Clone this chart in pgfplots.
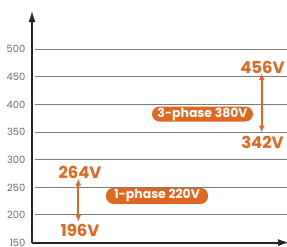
\documentclass[border=0pt]{standalone}
\usepackage{pgfplots}
\pgfplotsset{compat=1.18}
\usetikzlibrary{arrows.meta}
\usepackage{fontspec}
\setmainfont{Poppins}
\definecolor{org}{RGB}{225,103,33}
\definecolor{axc}{RGB}{40,36,36}
\definecolor{grc}{RGB}{125,125,125}
\definecolor{tkc}{RGB}{110,110,110}
\begin{document}
\begin{tikzpicture}
\begin{axis}[
 scale only axis, width=258bp, height=232.5bp,
 xmin=0,xmax=258,ymin=150,ymax=571,
 axis x line=bottom, axis y line=left,
 x axis line style={axc, line width=2bp, -{Latex[length=12bp,width=7bp]}},
 y axis line style={axc, line width=2bp, -{Latex[length=12bp,width=7bp]}},
 xtick=\empty,
 ytick={150,200,...,500},
 yticklabel style={font=\fontsize{10}{10}\selectfont, text=tkc, xshift=-3bp},
 major tick length=0pt,
 /pgf/number format/assume math mode=true,
 clip=false,
]
\pgfplotsinvokeforeach{200,250,...,500}{
  \addplot[grc, line width=1bp] coordinates {(3,#1) (258,#1)};
}
\addplot[org, line width=2bp, {Latex[length=7bp,width=6bp]}-{Latex[length=7bp,width=6bp]}] coordinates {(46.3,188) (46.3,266)};
\addplot[org, line width=2bp, {Latex[length=7bp,width=6bp]}-{Latex[length=7bp,width=6bp]}] coordinates {(229.7,349) (229.7,457)};
\node[text=org, font=\bfseries\fontsize{16.5}{16}\selectfont] at (axis cs:48,277.7) {264V};
\node[text=org, font=\bfseries\fontsize{16.5}{16}\selectfont] at (axis cs:48,171.7) {196V};
\node[text=org, font=\bfseries\fontsize{16.5}{16}\selectfont] at (axis cs:230.5,468) {456V};
\node[text=org, font=\bfseries\fontsize{16.5}{16}\selectfont] at (axis cs:230.5,331) {342V};
\node[fill=org, text=white, rounded corners=7.5bp, minimum width=102bp, minimum height=16bp, inner sep=0pt, font=\bfseries\fontsize{12.5}{12}\selectfont] at (axis cs:125,234.6) {1-phase 220V};
\node[fill=org, text=white, rounded corners=7.5bp, minimum width=101bp, minimum height=15bp, inner sep=0pt, font=\bfseries\fontsize{12.5}{12}\selectfont] at (axis cs:170.5,382.8) {3-phase 380V};
\coordinate (bl) at (axis cs:-32,143.7);
\coordinate (tr) at (axis cs:255,589.3);
\end{axis}
\pgfresetboundingbox
\useasboundingbox (bl) rectangle (tr);
\end{tikzpicture}
\end{document}
